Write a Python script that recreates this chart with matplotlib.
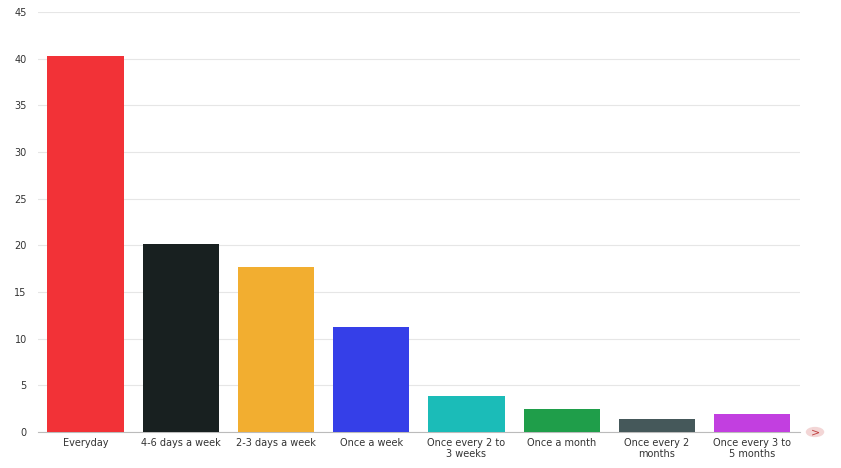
import matplotlib
matplotlib.use("Agg")
import matplotlib.pyplot as plt
from matplotlib.patches import Circle

categories = ["Everyday", "4-6 days a week", "2-3 days a week", "Once a week",
              "Once every 2 to\n3 weeks", "Once a month", "Once every 2\nmonths",
              "Once every 3 to\n5 months"]
values = [40.3, 20.15, 17.7, 11.25, 3.86, 2.46, 1.4, 1.93]
colors = ["#f23237", "#182020", "#f2ae30", "#353fe8", "#1bbcb8", "#1f9e4a", "#45585a", "#c23fe0"]
yticks = [0, 5, 10, 15, 20, 25, 30, 35, 40, 45]

fig = plt.figure(figsize=(8.41, 4.68), dpi=100)
ax = fig.add_axes([0.045, 0.077, 0.906, 0.897])
x = range(len(categories))
ax.bar(x, values, width=0.8, color=colors, zorder=3)
ax.set_xlim(-0.5, len(categories) - 0.5)
ax.set_ylim(0, 45)
ax.set_yticks(yticks)
ax.set_xticks(list(x))
ax.set_xticklabels(categories, fontsize=7, color="#333333", va="top")
ax.tick_params(axis="y", labelsize=7, colors="#333333", length=0, pad=8)
ax.tick_params(axis="x", length=0, pad=4)
ax.grid(axis="y", color="#e6e6e6", linewidth=0.8, zorder=0)
for s in ["top", "right", "left"]:
    ax.spines[s].set_visible(False)
ax.spines["bottom"].set_color("#bbbbbb")

circ = Circle((815 / 841, 1 - 432 / 468), 0.011, transform=fig.transFigure,
              facecolor="#f3d6d6", edgecolor="none")
fig.patches.append(circ)
fig.text(815 / 841, 1 - 432 / 468, ">", ha="center", va="center", fontsize=8, color="#c04040")

fig.savefig("out.png", dpi=100)
